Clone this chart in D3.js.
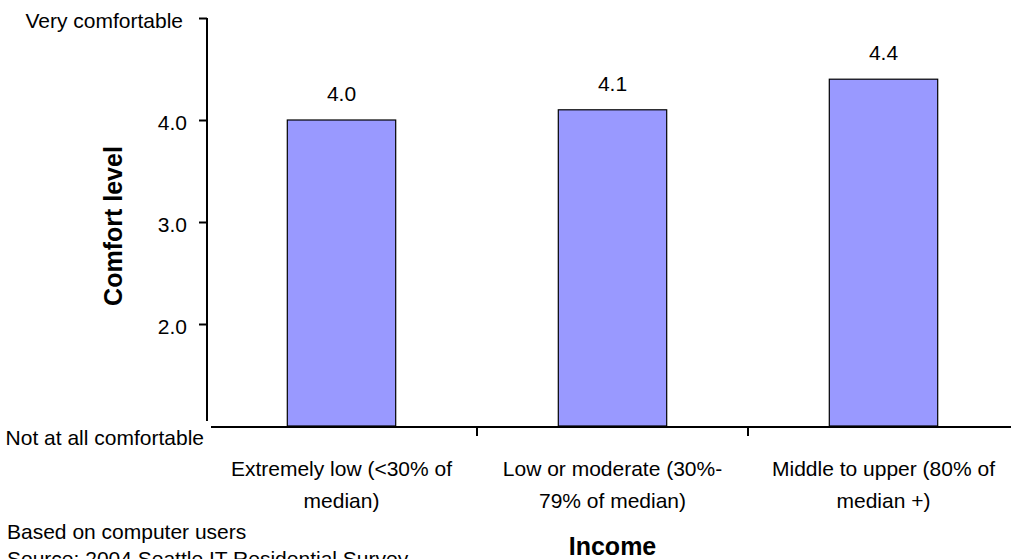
<!DOCTYPE html>
<html>
<head>
<meta charset="utf-8">
<script src="https://cdn.jsdelivr.net/npm/d3@7"></script>
<style>
  html, body { margin: 0; padding: 0; background: #fff; }
  svg { display: block; }
  text { font-family: "Liberation Sans", Arial, sans-serif; fill: #000; }
</style>
</head>
<body>
<svg id="chart" width="1011" height="559"></svg>
<script>
// ---- data ----
const categories = [
  "Extremely low (<30% of median)",
  "Low or moderate (30%-79% of median)",
  "Middle to upper (80% of median +)"
];
const values = [4.0, 4.1, 4.4];
const valueLabels = ["4.0", "4.1", "4.4"];
const yTickValues = [2, 3, 4, 5];
const yTopLabel = "Very comfortable";
const yBottomLabel = "Not at all comfortable";
const yAxisTitle = "Comfort level";
const xAxisTitle = "Income";
const notes = ["Based on computer users", "Source: 2004 Seattle IT Residential Survey"];

// ---- layout ----
const FS = "21px";
const svg = d3.select("#chart");
const y = d3.scaleLinear().domain([1, 5]).range([426, 18]);
const x = d3.scaleBand().domain(categories).range([206, 1019])
  .paddingInner(0.6).paddingOuter(0.3);

const axisX = 207, axisY = 427;

// bars
svg.append("g").selectAll("rect").data(values).join("rect")
  .attr("x", (d, i) => x(categories[i]))
  .attr("y", d => y(d))
  .attr("width", x.bandwidth())
  .attr("height", d => y(1) - y(d))
  .attr("fill", "#9999FF")
  .attr("stroke", "#000")
  .attr("stroke-width", 1.2);

// value labels
svg.append("g").selectAll("text").data(values).join("text")
  .attr("x", (d, i) => x(categories[i]) + x.bandwidth() / 2)
  .attr("y", d => y(d) - 19)
  .attr("text-anchor", "middle")
  .style("font-size", FS)
  .text((d, i) => valueLabels[i]);

// y axis
const yAxis = d3.axisLeft(y).tickValues(yTickValues).tickSize(8).tickPadding(12)
  .tickFormat(d => d === 5 ? yTopLabel : d3.format(".1f")(d));
const gy = svg.append("g").attr("transform", `translate(${axisX},0)`).call(yAxis);
gy.select(".domain").remove();
gy.selectAll(".tick line").attr("stroke", "#000").attr("stroke-width", 2);
gy.selectAll(".tick text")
  .style("font-size", FS).style("font-family", "Liberation Sans, Arial, sans-serif")
  .attr("fill", "#000")
  .attr("dy", "0.45em")
  .attr("x", d => d === 5 ? -24 : -20);
svg.append("line")
  .attr("x1", axisX).attr("x2", axisX)
  .attr("y1", y(5)).attr("y2", 421)
  .attr("stroke", "#000").attr("stroke-width", 2);

svg.append("text")
  .attr("x", 204).attr("y", y(1) + 19)
  .attr("text-anchor", "end")
  .style("font-size", FS)
  .text(yBottomLabel);

// x axis line
svg.append("line")
  .attr("x1", 211).attr("x2", 1011)
  .attr("y1", axisY).attr("y2", axisY)
  .attr("stroke", "#000").attr("stroke-width", 2);

// category boundary ticks
svg.append("g").selectAll("line").data(categories.slice(0, -1)).join("line")
  .attr("x1", d => x(d) + x.bandwidth() / 2 + x.step() / 2)
  .attr("x2", d => x(d) + x.bandwidth() / 2 + x.step() / 2)
  .attr("y1", axisY).attr("y2", axisY + 9)
  .attr("stroke", "#000").attr("stroke-width", 2);

// category labels (wrapped)
const measurer = svg.append("text").style("font-size", FS).attr("visibility", "hidden");
function wrapText(str, maxW) {
  const tokens = str.split(/(?<=[\s-])/);
  const lines = [];
  let cur = "";
  tokens.forEach(t => {
    const trial = cur + t;
    measurer.text(trial.trim());
    if (cur && measurer.node().getComputedTextLength() > maxW) {
      lines.push(cur.trim());
      cur = t;
    } else {
      cur = trial;
    }
  });
  if (cur.trim()) lines.push(cur.trim());
  return lines;
}
const catG = svg.append("g");
categories.forEach(c => {
  const lines = wrapText(c, 250);
  const t = catG.append("text")
    .attr("text-anchor", "middle")
    .style("font-size", FS);
  lines.forEach((ln, j) => {
    t.append("tspan")
      .attr("x", x(c) + x.bandwidth() / 2)
      .attr("y", 476 + j * 32)
      .text(ln);
  });
});
measurer.remove();

// axis titles
svg.append("text")
  .attr("transform", `translate(122,${(y(2) + y(4)) / 2 + 4}) rotate(-90)`)
  .attr("text-anchor", "middle")
  .style("font-size", "25px").style("font-weight", "bold")
  .text(yAxisTitle);

svg.append("text")
  .attr("x", x(categories[1]) + x.bandwidth() / 2)
  .attr("y", 555)
  .attr("text-anchor", "middle")
  .style("font-size", "25px").style("font-weight", "bold")
  .text(xAxisTitle);

// notes
svg.append("g").selectAll("text").data(notes).join("text")
  .attr("x", 7)
  .attr("y", (d, i) => 539 + i * 27)
  .style("font-size", FS)
  .text(d => d);
</script>
</body>
</html>
